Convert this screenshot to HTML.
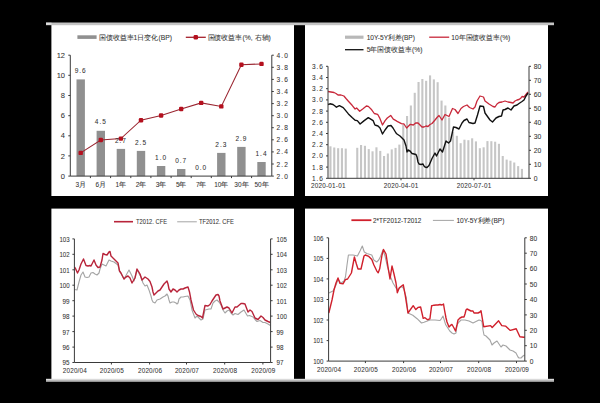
<!DOCTYPE html>
<html><head><meta charset="utf-8"><style>
html,body{margin:0;padding:0;background:#000;width:600px;height:403px;overflow:hidden;}
svg{display:block;font-family:"Liberation Sans", sans-serif;}
</style></head><body><svg width="600" height="403" viewBox="0 0 600 403" font-family='"Liberation Sans", sans-serif'><rect x="0" y="0" width="600" height="403" fill="#000"/>
<rect x="51.4" y="24" width="242.6" height="172" fill="#fff"/>
<rect x="305" y="24" width="243" height="172" fill="#fff"/>
<rect x="51.4" y="208.6" width="242.6" height="171" fill="#fff"/>
<rect x="305" y="208.6" width="243" height="171" fill="#fff"/>
<rect x="46" y="22.5" width="508" height="2.7" fill="#c4c4c4"/>
<rect x="46" y="22.7" width="5.5" height="2" fill="#dedede"/>
<rect x="46" y="378.8" width="508" height="1.2" fill="#dadada"/>
<rect x="46" y="380" width="508" height="1.8" fill="#b8b8b8"/>
<rect x="76.5" y="79.4" width="8.4" height="96.7" fill="#909090"/>
<rect x="96.6" y="130.8" width="8.4" height="45.3" fill="#909090"/>
<rect x="116.7" y="148.9" width="8.4" height="27.2" fill="#909090"/>
<rect x="136.8" y="150.9" width="8.4" height="25.2" fill="#909090"/>
<rect x="156.9" y="166.0" width="8.4" height="10.1" fill="#909090"/>
<rect x="177.0" y="169.0" width="8.4" height="7.1" fill="#909090"/>
<rect x="217.1" y="152.9" width="8.4" height="23.2" fill="#909090"/>
<rect x="237.2" y="146.9" width="8.4" height="29.2" fill="#909090"/>
<rect x="257.3" y="162.0" width="8.4" height="14.1" fill="#909090"/>
<polyline points="80.7,152.9 100.8,140.0 120.9,138.6 141.0,120.2 161.1,115.5 181.2,109.0 201.2,102.9 221.3,106.4 241.4,64.7 261.5,63.9" fill="none" stroke="#9a2530" stroke-width="1.05"/>
<rect x="78.5" y="150.7" width="4.4" height="4.4" rx="1.2" fill="#b4101e"/>
<rect x="98.6" y="137.8" width="4.4" height="4.4" rx="1.2" fill="#b4101e"/>
<rect x="118.7" y="136.4" width="4.4" height="4.4" rx="1.2" fill="#b4101e"/>
<rect x="138.8" y="118.0" width="4.4" height="4.4" rx="1.2" fill="#b4101e"/>
<rect x="158.9" y="113.3" width="4.4" height="4.4" rx="1.2" fill="#b4101e"/>
<rect x="179.0" y="106.8" width="4.4" height="4.4" rx="1.2" fill="#b4101e"/>
<rect x="199.0" y="100.7" width="4.4" height="4.4" rx="1.2" fill="#b4101e"/>
<rect x="219.1" y="104.2" width="4.4" height="4.4" rx="1.2" fill="#b4101e"/>
<rect x="239.2" y="62.5" width="4.4" height="4.4" rx="1.2" fill="#b4101e"/>
<rect x="259.3" y="61.7" width="4.4" height="4.4" rx="1.2" fill="#b4101e"/>
<text x="80.7" y="73.0" font-size="6.5" text-anchor="middle" fill="#333333" stroke="#333333" stroke-width="0.06" letter-spacing="1">9.6</text>
<text x="100.8" y="124.4" font-size="6.5" text-anchor="middle" fill="#333333" stroke="#333333" stroke-width="0.06" letter-spacing="1">4.5</text>
<text x="120.9" y="142.5" font-size="6.5" text-anchor="middle" fill="#333333" stroke="#333333" stroke-width="0.06" letter-spacing="1">2.7</text>
<text x="141.0" y="144.5" font-size="6.5" text-anchor="middle" fill="#333333" stroke="#333333" stroke-width="0.06" letter-spacing="1">2.5</text>
<text x="161.1" y="159.6" font-size="6.5" text-anchor="middle" fill="#333333" stroke="#333333" stroke-width="0.06" letter-spacing="1">1.0</text>
<text x="181.2" y="162.6" font-size="6.5" text-anchor="middle" fill="#333333" stroke="#333333" stroke-width="0.06" letter-spacing="1">0.7</text>
<text x="201.2" y="169.7" font-size="6.5" text-anchor="middle" fill="#333333" stroke="#333333" stroke-width="0.06" letter-spacing="1">0.0</text>
<text x="221.3" y="146.5" font-size="6.5" text-anchor="middle" fill="#333333" stroke="#333333" stroke-width="0.06" letter-spacing="1">2.3</text>
<text x="241.4" y="140.5" font-size="6.5" text-anchor="middle" fill="#333333" stroke="#333333" stroke-width="0.06" letter-spacing="1">2.9</text>
<text x="261.5" y="155.6" font-size="6.5" text-anchor="middle" fill="#333333" stroke="#333333" stroke-width="0.06" letter-spacing="1">1.4</text>
<line x1="70.3" y1="55.2" x2="70.3" y2="176.1" stroke="#3a3a3a" stroke-width="1"/>
<line x1="271.8" y1="55.2" x2="271.8" y2="176.1" stroke="#3a3a3a" stroke-width="1"/>
<line x1="70.3" y1="176.1" x2="271.8" y2="176.1" stroke="#3a3a3a" stroke-width="1"/>
<line x1="68.3" y1="176.1" x2="70.3" y2="176.1" stroke="#3a3a3a" stroke-width="1"/>
<text x="65" y="178.7" font-size="7.5" text-anchor="end" fill="#333333" stroke="#333333" stroke-width="0.06" >0</text>
<line x1="68.3" y1="155.9" x2="70.3" y2="155.9" stroke="#3a3a3a" stroke-width="1"/>
<text x="65" y="158.5" font-size="7.5" text-anchor="end" fill="#333333" stroke="#333333" stroke-width="0.06" >2</text>
<line x1="68.3" y1="135.8" x2="70.3" y2="135.8" stroke="#3a3a3a" stroke-width="1"/>
<text x="65" y="138.4" font-size="7.5" text-anchor="end" fill="#333333" stroke="#333333" stroke-width="0.06" >4</text>
<line x1="68.3" y1="115.7" x2="70.3" y2="115.7" stroke="#3a3a3a" stroke-width="1"/>
<text x="65" y="118.2" font-size="7.5" text-anchor="end" fill="#333333" stroke="#333333" stroke-width="0.06" >6</text>
<line x1="68.3" y1="95.5" x2="70.3" y2="95.5" stroke="#3a3a3a" stroke-width="1"/>
<text x="65" y="98.1" font-size="7.5" text-anchor="end" fill="#333333" stroke="#333333" stroke-width="0.06" >8</text>
<line x1="68.3" y1="75.3" x2="70.3" y2="75.3" stroke="#3a3a3a" stroke-width="1"/>
<text x="65" y="77.9" font-size="7.5" text-anchor="end" fill="#333333" stroke="#333333" stroke-width="0.06" >10</text>
<line x1="68.3" y1="55.2" x2="70.3" y2="55.2" stroke="#3a3a3a" stroke-width="1"/>
<text x="65" y="57.8" font-size="7.5" text-anchor="end" fill="#333333" stroke="#333333" stroke-width="0.06" >12</text>
<line x1="271.8" y1="176.1" x2="273.8" y2="176.1" stroke="#3a3a3a" stroke-width="1"/>
<text x="276.4" y="178.6" font-size="6.6" text-anchor="start" fill="#333333" textLength="11.4" lengthAdjust="spacing" stroke="#333333" stroke-width="0.06" >2.0</text>
<line x1="271.8" y1="164.0" x2="273.8" y2="164.0" stroke="#3a3a3a" stroke-width="1"/>
<text x="276.4" y="166.5" font-size="6.6" text-anchor="start" fill="#333333" textLength="11.4" lengthAdjust="spacing" stroke="#333333" stroke-width="0.06" >2.2</text>
<line x1="271.8" y1="151.9" x2="273.8" y2="151.9" stroke="#3a3a3a" stroke-width="1"/>
<text x="276.4" y="154.4" font-size="6.6" text-anchor="start" fill="#333333" textLength="11.4" lengthAdjust="spacing" stroke="#333333" stroke-width="0.06" >2.4</text>
<line x1="271.8" y1="139.8" x2="273.8" y2="139.8" stroke="#3a3a3a" stroke-width="1"/>
<text x="276.4" y="142.3" font-size="6.6" text-anchor="start" fill="#333333" textLength="11.4" lengthAdjust="spacing" stroke="#333333" stroke-width="0.06" >2.6</text>
<line x1="271.8" y1="127.7" x2="273.8" y2="127.7" stroke="#3a3a3a" stroke-width="1"/>
<text x="276.4" y="130.2" font-size="6.6" text-anchor="start" fill="#333333" textLength="11.4" lengthAdjust="spacing" stroke="#333333" stroke-width="0.06" >2.8</text>
<line x1="271.8" y1="115.7" x2="273.8" y2="115.7" stroke="#3a3a3a" stroke-width="1"/>
<text x="276.4" y="118.2" font-size="6.6" text-anchor="start" fill="#333333" textLength="11.4" lengthAdjust="spacing" stroke="#333333" stroke-width="0.06" >3.0</text>
<line x1="271.8" y1="103.6" x2="273.8" y2="103.6" stroke="#3a3a3a" stroke-width="1"/>
<text x="276.4" y="106.1" font-size="6.6" text-anchor="start" fill="#333333" textLength="11.4" lengthAdjust="spacing" stroke="#333333" stroke-width="0.06" >3.2</text>
<line x1="271.8" y1="91.5" x2="273.8" y2="91.5" stroke="#3a3a3a" stroke-width="1"/>
<text x="276.4" y="94.0" font-size="6.6" text-anchor="start" fill="#333333" textLength="11.4" lengthAdjust="spacing" stroke="#333333" stroke-width="0.06" >3.4</text>
<line x1="271.8" y1="79.4" x2="273.8" y2="79.4" stroke="#3a3a3a" stroke-width="1"/>
<text x="276.4" y="81.9" font-size="6.6" text-anchor="start" fill="#333333" textLength="11.4" lengthAdjust="spacing" stroke="#333333" stroke-width="0.06" >3.6</text>
<line x1="271.8" y1="67.3" x2="273.8" y2="67.3" stroke="#3a3a3a" stroke-width="1"/>
<text x="276.4" y="69.8" font-size="6.6" text-anchor="start" fill="#333333" textLength="11.4" lengthAdjust="spacing" stroke="#333333" stroke-width="0.06" >3.8</text>
<line x1="271.8" y1="55.2" x2="273.8" y2="55.2" stroke="#3a3a3a" stroke-width="1"/>
<text x="276.4" y="57.7" font-size="6.6" text-anchor="start" fill="#333333" textLength="11.4" lengthAdjust="spacing" stroke="#333333" stroke-width="0.06" >4.0</text>
<line x1="90.4" y1="176.1" x2="90.4" y2="178.1" stroke="#3a3a3a" stroke-width="1"/>
<line x1="110.6" y1="176.1" x2="110.6" y2="178.1" stroke="#3a3a3a" stroke-width="1"/>
<line x1="130.8" y1="176.1" x2="130.8" y2="178.1" stroke="#3a3a3a" stroke-width="1"/>
<line x1="150.9" y1="176.1" x2="150.9" y2="178.1" stroke="#3a3a3a" stroke-width="1"/>
<line x1="171.1" y1="176.1" x2="171.1" y2="178.1" stroke="#3a3a3a" stroke-width="1"/>
<line x1="191.2" y1="176.1" x2="191.2" y2="178.1" stroke="#3a3a3a" stroke-width="1"/>
<line x1="211.3" y1="176.1" x2="211.3" y2="178.1" stroke="#3a3a3a" stroke-width="1"/>
<line x1="231.5" y1="176.1" x2="231.5" y2="178.1" stroke="#3a3a3a" stroke-width="1"/>
<line x1="251.6" y1="176.1" x2="251.6" y2="178.1" stroke="#3a3a3a" stroke-width="1"/>
<text x="80.7" y="186.9" font-size="6.5" text-anchor="middle" fill="#333333" stroke="#333333" stroke-width="0.06" >3月</text>
<text x="100.8" y="186.9" font-size="6.5" text-anchor="middle" fill="#333333" stroke="#333333" stroke-width="0.06" >6月</text>
<text x="120.9" y="186.9" font-size="6.5" text-anchor="middle" fill="#333333" stroke="#333333" stroke-width="0.06" >1年</text>
<text x="141.0" y="186.9" font-size="6.5" text-anchor="middle" fill="#333333" stroke="#333333" stroke-width="0.06" >2年</text>
<text x="161.1" y="186.9" font-size="6.5" text-anchor="middle" fill="#333333" stroke="#333333" stroke-width="0.06" >3年</text>
<text x="181.2" y="186.9" font-size="6.5" text-anchor="middle" fill="#333333" stroke="#333333" stroke-width="0.06" >5年</text>
<text x="201.2" y="186.9" font-size="6.5" text-anchor="middle" fill="#333333" stroke="#333333" stroke-width="0.06" >7年</text>
<text x="221.3" y="186.9" font-size="6.5" text-anchor="middle" fill="#333333" stroke="#333333" stroke-width="0.06" >10年</text>
<text x="241.4" y="186.9" font-size="6.5" text-anchor="middle" fill="#333333" stroke="#333333" stroke-width="0.06" >30年</text>
<text x="261.5" y="186.9" font-size="6.5" text-anchor="middle" fill="#333333" stroke="#333333" stroke-width="0.06" >50年</text>
<rect x="77.4" y="35.3" width="19.2" height="3.6" fill="#909090"/>
<text x="98.6" y="39.6" font-size="6.8" text-anchor="start" fill="#333333" textLength="73.4" lengthAdjust="spacingAndGlyphs" stroke="#333333" stroke-width="0.06" >国债收益率1日变化(BP)</text>
<line x1="185.8" y1="37.3" x2="205.8" y2="37.3" stroke="#a5202c" stroke-width="1.3"/>
<rect x="193.6" y="35.1" width="4.4" height="4.4" rx="1.2" fill="#b4101e"/>
<text x="207.5" y="39.6" font-size="6.8" text-anchor="start" fill="#333333" textLength="63.3" lengthAdjust="spacingAndGlyphs" stroke="#333333" stroke-width="0.06" >国债收益率(%, 右轴)</text>
<rect x="329.4" y="146.3" width="2.1" height="32.0" fill="#c6c6c6"/>
<rect x="333.2" y="147.5" width="2.1" height="30.8" fill="#c6c6c6"/>
<rect x="337.1" y="148.2" width="2.1" height="30.1" fill="#c6c6c6"/>
<rect x="340.9" y="148.2" width="2.1" height="30.1" fill="#c6c6c6"/>
<rect x="344.7" y="148.6" width="2.1" height="29.7" fill="#c6c6c6"/>
<rect x="356.2" y="147.8" width="2.1" height="30.5" fill="#c6c6c6"/>
<rect x="360.0" y="145.0" width="2.1" height="33.3" fill="#c6c6c6"/>
<rect x="363.9" y="145.8" width="2.1" height="32.5" fill="#c6c6c6"/>
<rect x="367.7" y="149.1" width="2.1" height="29.2" fill="#c6c6c6"/>
<rect x="371.5" y="151.3" width="2.1" height="27.0" fill="#c6c6c6"/>
<rect x="375.4" y="147.3" width="2.1" height="31.0" fill="#c6c6c6"/>
<rect x="379.2" y="150.9" width="2.1" height="27.4" fill="#c6c6c6"/>
<rect x="383.0" y="156.0" width="2.1" height="22.3" fill="#c6c6c6"/>
<rect x="386.8" y="153.5" width="2.1" height="24.8" fill="#c6c6c6"/>
<rect x="390.7" y="149.4" width="2.1" height="28.9" fill="#c6c6c6"/>
<rect x="394.5" y="147.9" width="2.1" height="30.4" fill="#c6c6c6"/>
<rect x="398.3" y="144.6" width="2.1" height="33.7" fill="#c6c6c6"/>
<rect x="402.2" y="125.0" width="2.1" height="53.3" fill="#c6c6c6"/>
<rect x="406.0" y="116.0" width="2.1" height="62.3" fill="#c6c6c6"/>
<rect x="409.8" y="105.5" width="2.1" height="72.8" fill="#c6c6c6"/>
<rect x="413.7" y="92.8" width="2.1" height="85.5" fill="#c6c6c6"/>
<rect x="417.5" y="82.0" width="2.1" height="96.3" fill="#c6c6c6"/>
<rect x="421.3" y="79.0" width="2.1" height="99.3" fill="#c6c6c6"/>
<rect x="425.1" y="80.8" width="2.1" height="97.5" fill="#c6c6c6"/>
<rect x="429.0" y="75.4" width="2.1" height="102.9" fill="#c6c6c6"/>
<rect x="432.8" y="79.4" width="2.1" height="98.9" fill="#c6c6c6"/>
<rect x="436.6" y="82.2" width="2.1" height="96.1" fill="#c6c6c6"/>
<rect x="440.5" y="100.6" width="2.1" height="77.7" fill="#c6c6c6"/>
<rect x="444.3" y="105.5" width="2.1" height="72.8" fill="#c6c6c6"/>
<rect x="448.1" y="117.6" width="2.1" height="60.7" fill="#c6c6c6"/>
<rect x="452.0" y="131.9" width="2.1" height="46.4" fill="#c6c6c6"/>
<rect x="455.8" y="135.8" width="2.1" height="42.5" fill="#c6c6c6"/>
<rect x="459.6" y="143.2" width="2.1" height="35.1" fill="#c6c6c6"/>
<rect x="463.4" y="139.7" width="2.1" height="38.6" fill="#c6c6c6"/>
<rect x="467.3" y="140.2" width="2.1" height="38.1" fill="#c6c6c6"/>
<rect x="471.1" y="138.3" width="2.1" height="40.0" fill="#c6c6c6"/>
<rect x="474.9" y="141.4" width="2.1" height="36.9" fill="#c6c6c6"/>
<rect x="478.8" y="148.2" width="2.1" height="30.1" fill="#c6c6c6"/>
<rect x="482.6" y="147.3" width="2.1" height="31.0" fill="#c6c6c6"/>
<rect x="486.4" y="141.1" width="2.1" height="37.2" fill="#c6c6c6"/>
<rect x="490.3" y="141.2" width="2.1" height="37.1" fill="#c6c6c6"/>
<rect x="494.1" y="141.7" width="2.1" height="36.6" fill="#c6c6c6"/>
<rect x="497.9" y="143.8" width="2.1" height="34.5" fill="#c6c6c6"/>
<rect x="501.7" y="156.0" width="2.1" height="22.3" fill="#c6c6c6"/>
<rect x="505.6" y="159.6" width="2.1" height="18.7" fill="#c6c6c6"/>
<rect x="509.4" y="160.7" width="2.1" height="17.6" fill="#c6c6c6"/>
<rect x="513.2" y="162.5" width="2.1" height="15.8" fill="#c6c6c6"/>
<rect x="517.1" y="166.1" width="2.1" height="12.2" fill="#c6c6c6"/>
<rect x="520.9" y="168.9" width="2.1" height="9.4" fill="#c6c6c6"/>
<polyline points="328.0,91.5 331.0,92.0 334.0,92.5 336.0,93.5 338.0,95.0 341.0,95.0 343.9,96.0 346.0,98.5 348.4,101.2 352.1,105.3 355.1,109.0 356.6,108.0 359.7,111.3 362.7,109.0 366.4,106.0 368.3,106.4 371.7,109.8 374.3,113.5 377.6,114.3 379.9,118.4 382.5,125.0 385.1,120.6 387.3,118.0 390.7,115.4 393.3,119.1 396.0,120.6 397.6,121.7 401.4,123.6 404.0,124.0 406.6,128.0 410.3,124.3 413.3,125.0 416.0,122.8 418.0,123.0 420.0,125.0 422.0,127.0 424.0,127.0 426.0,126.0 428.0,126.5 430.0,124.5 432.0,123.5 435.0,120.0 437.0,117.5 439.0,115.5 442.0,120.0 445.0,114.5 447.0,115.5 449.0,116.5 452.5,108.5 455.0,109.5 458.0,113.5 461.0,108.5 463.5,106.5 467.0,105.0 469.5,107.5 473.0,109.0 475.0,107.0 477.0,101.0 480.0,96.0 483.5,97.0 485.0,101.0 489.0,104.0 493.0,106.5 495.0,107.0 497.0,104.0 499.0,102.5 502.0,102.0 505.0,101.0 508.0,102.0 511.0,102.5 513.0,103.0 515.0,101.0 517.0,100.0 519.0,99.5 521.0,98.0 522.0,96.5 524.0,97.0 526.0,94.5 528.0,92.0" fill="none" stroke="#c8283a" stroke-width="1.3" stroke-linejoin="round"/>
<polyline points="328.0,104.5 330.0,103.8 333.0,104.5 335.0,106.0 336.4,107.2 339.4,105.7 343.2,107.6 344.7,109.4 348.4,113.9 352.1,117.6 355.1,120.3 357.3,120.6 360.1,124.0 364.2,120.6 368.3,117.6 373.1,120.6 374.6,124.3 375.0,125.0 378.0,126.0 380.0,128.0 382.5,134.0 385.0,130.0 388.0,126.0 391.0,125.5 393.0,128.0 396.0,133.0 397.0,134.0 400.0,136.0 402.0,138.0 404.0,140.0 406.0,146.0 407.0,152.0 408.0,150.0 410.0,151.0 412.0,153.5 414.0,154.0 416.0,154.5 417.0,157.0 418.0,162.0 419.0,164.0 421.0,164.5 423.0,164.0 424.0,166.0 425.0,167.0 427.0,167.5 429.0,165.5 432.0,158.5 435.0,153.0 436.5,156.0 440.0,149.0 442.5,152.0 446.0,141.0 448.5,143.0 450.5,141.0 453.5,127.0 456.0,127.5 459.0,129.0 462.0,123.0 464.0,120.5 467.0,119.0 469.0,122.5 473.0,123.5 475.0,123.0 477.5,115.0 480.0,106.0 483.5,106.5 485.0,113.0 490.0,120.0 492.5,122.0 496.0,118.0 499.0,116.5 501.5,116.0 503.0,110.0 505.0,109.5 508.0,108.0 511.0,110.0 514.0,106.0 517.0,105.0 519.0,103.5 522.0,101.5 524.0,100.0 526.0,96.0 528.0,93.0" fill="none" stroke="#111" stroke-width="1.4" stroke-linejoin="round"/>
<line x1="328.0" y1="66.3" x2="328.0" y2="178.3" stroke="#3a3a3a" stroke-width="1"/>
<line x1="529.0" y1="66.3" x2="529.0" y2="178.3" stroke="#3a3a3a" stroke-width="1"/>
<line x1="328.0" y1="178.3" x2="529.0" y2="178.3" stroke="#3a3a3a" stroke-width="1"/>
<line x1="326.0" y1="66.3" x2="328.0" y2="66.3" stroke="#3a3a3a" stroke-width="1"/>
<text x="317.5" y="68.7" font-size="6.5" text-anchor="middle" fill="#333333" textLength="10.8" lengthAdjust="spacing" stroke="#333333" stroke-width="0.06" >3.6</text>
<line x1="326.0" y1="77.5" x2="328.0" y2="77.5" stroke="#3a3a3a" stroke-width="1"/>
<text x="317.5" y="79.9" font-size="6.5" text-anchor="middle" fill="#333333" textLength="10.8" lengthAdjust="spacing" stroke="#333333" stroke-width="0.06" >3.4</text>
<line x1="326.0" y1="88.7" x2="328.0" y2="88.7" stroke="#3a3a3a" stroke-width="1"/>
<text x="317.5" y="91.1" font-size="6.5" text-anchor="middle" fill="#333333" textLength="10.8" lengthAdjust="spacing" stroke="#333333" stroke-width="0.06" >3.2</text>
<line x1="326.0" y1="99.9" x2="328.0" y2="99.9" stroke="#3a3a3a" stroke-width="1"/>
<text x="317.5" y="102.3" font-size="6.5" text-anchor="middle" fill="#333333" textLength="10.8" lengthAdjust="spacing" stroke="#333333" stroke-width="0.06" >3.0</text>
<line x1="326.0" y1="111.1" x2="328.0" y2="111.1" stroke="#3a3a3a" stroke-width="1"/>
<text x="317.5" y="113.5" font-size="6.5" text-anchor="middle" fill="#333333" textLength="10.8" lengthAdjust="spacing" stroke="#333333" stroke-width="0.06" >2.8</text>
<line x1="326.0" y1="122.3" x2="328.0" y2="122.3" stroke="#3a3a3a" stroke-width="1"/>
<text x="317.5" y="124.7" font-size="6.5" text-anchor="middle" fill="#333333" textLength="10.8" lengthAdjust="spacing" stroke="#333333" stroke-width="0.06" >2.6</text>
<line x1="326.0" y1="133.5" x2="328.0" y2="133.5" stroke="#3a3a3a" stroke-width="1"/>
<text x="317.5" y="135.9" font-size="6.5" text-anchor="middle" fill="#333333" textLength="10.8" lengthAdjust="spacing" stroke="#333333" stroke-width="0.06" >2.4</text>
<line x1="326.0" y1="144.7" x2="328.0" y2="144.7" stroke="#3a3a3a" stroke-width="1"/>
<text x="317.5" y="147.1" font-size="6.5" text-anchor="middle" fill="#333333" textLength="10.8" lengthAdjust="spacing" stroke="#333333" stroke-width="0.06" >2.2</text>
<line x1="326.0" y1="155.9" x2="328.0" y2="155.9" stroke="#3a3a3a" stroke-width="1"/>
<text x="317.5" y="158.3" font-size="6.5" text-anchor="middle" fill="#333333" textLength="10.8" lengthAdjust="spacing" stroke="#333333" stroke-width="0.06" >2.0</text>
<line x1="326.0" y1="167.1" x2="328.0" y2="167.1" stroke="#3a3a3a" stroke-width="1"/>
<text x="317.5" y="169.5" font-size="6.5" text-anchor="middle" fill="#333333" textLength="10.8" lengthAdjust="spacing" stroke="#333333" stroke-width="0.06" >1.8</text>
<line x1="326.0" y1="178.3" x2="328.0" y2="178.3" stroke="#3a3a3a" stroke-width="1"/>
<text x="317.5" y="180.7" font-size="6.5" text-anchor="middle" fill="#333333" textLength="10.8" lengthAdjust="spacing" stroke="#333333" stroke-width="0.06" >1.6</text>
<line x1="529.0" y1="66.3" x2="531.0" y2="66.3" stroke="#3a3a3a" stroke-width="1"/>
<text x="533.8" y="68.7" font-size="6.8" text-anchor="start" fill="#333333" stroke="#333333" stroke-width="0.06" >80</text>
<line x1="529.0" y1="80.3" x2="531.0" y2="80.3" stroke="#3a3a3a" stroke-width="1"/>
<text x="533.8" y="82.7" font-size="6.8" text-anchor="start" fill="#333333" stroke="#333333" stroke-width="0.06" >70</text>
<line x1="529.0" y1="94.3" x2="531.0" y2="94.3" stroke="#3a3a3a" stroke-width="1"/>
<text x="533.8" y="96.7" font-size="6.8" text-anchor="start" fill="#333333" stroke="#333333" stroke-width="0.06" >60</text>
<line x1="529.0" y1="108.3" x2="531.0" y2="108.3" stroke="#3a3a3a" stroke-width="1"/>
<text x="533.8" y="110.7" font-size="6.8" text-anchor="start" fill="#333333" stroke="#333333" stroke-width="0.06" >50</text>
<line x1="529.0" y1="122.3" x2="531.0" y2="122.3" stroke="#3a3a3a" stroke-width="1"/>
<text x="533.8" y="124.7" font-size="6.8" text-anchor="start" fill="#333333" stroke="#333333" stroke-width="0.06" >40</text>
<line x1="529.0" y1="136.3" x2="531.0" y2="136.3" stroke="#3a3a3a" stroke-width="1"/>
<text x="533.8" y="138.7" font-size="6.8" text-anchor="start" fill="#333333" stroke="#333333" stroke-width="0.06" >30</text>
<line x1="529.0" y1="150.3" x2="531.0" y2="150.3" stroke="#3a3a3a" stroke-width="1"/>
<text x="533.8" y="152.7" font-size="6.8" text-anchor="start" fill="#333333" stroke="#333333" stroke-width="0.06" >20</text>
<line x1="529.0" y1="164.3" x2="531.0" y2="164.3" stroke="#3a3a3a" stroke-width="1"/>
<text x="533.8" y="166.7" font-size="6.8" text-anchor="start" fill="#333333" stroke="#333333" stroke-width="0.06" >10</text>
<line x1="529.0" y1="178.3" x2="531.0" y2="178.3" stroke="#3a3a3a" stroke-width="1"/>
<text x="533.8" y="180.7" font-size="6.8" text-anchor="start" fill="#333333" stroke="#333333" stroke-width="0.06" >0</text>
<line x1="401.0" y1="178.3" x2="401.0" y2="180.3" stroke="#3a3a3a" stroke-width="1"/>
<line x1="474.0" y1="178.3" x2="474.0" y2="180.3" stroke="#3a3a3a" stroke-width="1"/>
<text x="328.2" y="188.3" font-size="6.4" text-anchor="middle" fill="#333333" textLength="34.5" lengthAdjust="spacing" stroke="#333333" stroke-width="0.05" >2020-01-01</text>
<text x="401" y="188.3" font-size="6.4" text-anchor="middle" fill="#333333" textLength="34.5" lengthAdjust="spacing" stroke="#333333" stroke-width="0.05" >2020-04-01</text>
<text x="474" y="188.3" font-size="6.4" text-anchor="middle" fill="#333333" textLength="34.5" lengthAdjust="spacing" stroke="#333333" stroke-width="0.05" >2020-07-01</text>
<rect x="345" y="35.6" width="18.5" height="3.2" fill="#b8b8b8"/>
<text x="366.7" y="39.6" font-size="6.8" text-anchor="start" fill="#333333" textLength="48.3" lengthAdjust="spacingAndGlyphs" stroke="#333333" stroke-width="0.06" >10Y-5Y利差(BP)</text>
<line x1="345" y1="49.7" x2="363.5" y2="49.7" stroke="#111" stroke-width="1.3"/>
<text x="366.7" y="52.1" font-size="6.8" text-anchor="start" fill="#333333" textLength="55.8" lengthAdjust="spacingAndGlyphs" stroke="#333333" stroke-width="0.06" >5年国债收益率(%)</text>
<line x1="429.2" y1="37.2" x2="449.2" y2="37.2" stroke="#c8283a" stroke-width="1.3"/>
<text x="451.3" y="39.6" font-size="6.8" text-anchor="start" fill="#333333" textLength="59" lengthAdjust="spacingAndGlyphs" stroke="#333333" stroke-width="0.06" >10年国债收益率(%)</text>
<polyline points="74.6,289.5 77.0,290.0 79.0,282.0 81.0,275.0 83.0,272.0 85.0,277.0 87.0,277.5 89.0,277.0 91.0,273.0 93.0,272.5 95.0,274.0 97.0,275.0 99.0,273.0 100.0,269.0 102.0,264.0 104.0,265.0 106.0,266.0 108.0,262.0 109.0,260.0 111.0,261.0 114.0,262.0 118.0,265.0 119.5,271.0 124.0,279.0 129.0,270.0 132.0,276.0 134.0,281.0 137.0,270.0 141.0,277.0 143.0,283.0 145.0,286.0 147.0,285.0 149.0,290.0 151.0,296.0 152.0,300.0 153.0,302.0 155.0,303.0 157.0,300.0 160.0,299.0 163.0,297.0 165.0,296.0 167.0,294.0 168.0,296.0 169.0,300.0 170.0,303.0 172.0,302.0 174.0,302.0 176.0,303.0 177.0,304.0 178.0,303.0 179.0,299.0 181.0,297.0 183.0,297.0 185.0,296.5 188.0,296.0 190.0,300.0 192.0,310.0 195.0,318.0 197.0,316.0 199.0,318.0 201.0,320.0 203.0,319.0 205.0,310.0 207.0,309.5 209.0,309.0 211.0,309.0 213.0,303.0 215.0,301.0 217.0,300.0 219.0,302.0 221.0,305.0 223.0,310.0 225.0,313.0 227.0,311.0 229.0,310.0 231.0,313.0 233.0,315.0 235.0,313.5 238.0,314.5 241.0,312.0 244.0,310.0 246.0,313.5 247.5,316.0 249.5,315.5 253.0,317.0 255.0,319.5 257.0,321.5 260.0,320.5 263.0,322.5 265.0,322.5 268.0,324.0 270.4,325.5" fill="none" stroke="#a4a4a4" stroke-width="1.1" stroke-linejoin="round"/>
<polyline points="74.6,267.0 75.5,268.5 77.5,273.0 79.0,270.0 81.0,264.0 83.5,259.0 86.0,265.5 88.0,266.0 90.0,265.5 91.0,266.0 93.0,262.0 94.0,260.0 96.0,265.0 98.0,267.5 100.0,267.0 102.0,260.0 103.0,253.5 105.0,254.5 107.0,255.0 109.0,252.0 110.0,251.5 111.0,256.0 114.0,259.0 118.0,263.0 119.5,271.0 121.0,273.0 124.0,279.0 126.0,277.0 128.0,276.0 130.0,278.0 132.0,283.0 135.0,278.0 137.0,269.0 140.0,274.0 142.0,280.0 145.0,277.0 148.0,279.0 150.0,281.5 152.0,287.0 153.0,292.0 154.0,295.0 156.0,293.0 158.0,291.0 160.0,290.0 162.0,287.0 164.0,284.0 166.0,282.0 167.0,281.0 168.0,284.0 169.0,289.0 171.0,292.0 173.0,289.0 175.0,290.0 177.0,292.0 179.0,290.0 181.0,289.0 183.0,289.0 185.0,288.0 188.0,287.0 189.5,292.0 191.0,300.0 193.5,310.0 196.0,314.0 198.0,315.5 201.0,316.5 202.5,318.0 203.5,313.0 205.0,305.5 208.0,306.0 210.0,304.5 212.0,301.0 214.0,298.0 216.0,295.0 218.0,294.5 219.0,296.0 220.0,301.0 223.0,309.0 227.0,307.0 229.0,308.0 232.0,313.0 235.0,307.0 237.0,307.0 241.0,303.5 243.0,303.5 245.0,304.0 246.5,308.0 248.0,312.0 250.0,310.0 252.0,311.5 255.0,318.0 258.0,319.5 261.0,316.0 263.0,317.5 265.0,320.0 268.0,321.5 270.4,322.5" fill="none" stroke="#b8243a" stroke-width="1.4" stroke-linejoin="round"/>
<line x1="74.4" y1="238.9" x2="74.4" y2="362.5" stroke="#3a3a3a" stroke-width="1"/>
<line x1="270.6" y1="238.9" x2="270.6" y2="362.5" stroke="#3a3a3a" stroke-width="1"/>
<line x1="74.4" y1="362.5" x2="270.6" y2="362.5" stroke="#3a3a3a" stroke-width="1"/>
<line x1="72.4" y1="238.9" x2="74.4" y2="238.9" stroke="#3a3a3a" stroke-width="1"/>
<text x="69.6" y="241.8" font-size="6.6" text-anchor="end" fill="#333333" textLength="10.2" lengthAdjust="spacingAndGlyphs" stroke="#333333" stroke-width="0.06" >103</text>
<line x1="270.6" y1="238.9" x2="272.6" y2="238.9" stroke="#3a3a3a" stroke-width="1"/>
<text x="276.6" y="241.8" font-size="6.6" text-anchor="start" fill="#333333" textLength="10.2" lengthAdjust="spacingAndGlyphs" stroke="#333333" stroke-width="0.06" >105</text>
<line x1="72.4" y1="254.3" x2="74.4" y2="254.3" stroke="#3a3a3a" stroke-width="1"/>
<text x="69.6" y="257.2" font-size="6.6" text-anchor="end" fill="#333333" textLength="10.2" lengthAdjust="spacingAndGlyphs" stroke="#333333" stroke-width="0.06" >102</text>
<line x1="270.6" y1="254.3" x2="272.6" y2="254.3" stroke="#3a3a3a" stroke-width="1"/>
<text x="276.6" y="257.2" font-size="6.6" text-anchor="start" fill="#333333" textLength="10.2" lengthAdjust="spacingAndGlyphs" stroke="#333333" stroke-width="0.06" >104</text>
<line x1="72.4" y1="269.8" x2="74.4" y2="269.8" stroke="#3a3a3a" stroke-width="1"/>
<text x="69.6" y="272.7" font-size="6.6" text-anchor="end" fill="#333333" textLength="10.2" lengthAdjust="spacingAndGlyphs" stroke="#333333" stroke-width="0.06" >101</text>
<line x1="270.6" y1="269.8" x2="272.6" y2="269.8" stroke="#3a3a3a" stroke-width="1"/>
<text x="276.6" y="272.7" font-size="6.6" text-anchor="start" fill="#333333" textLength="10.2" lengthAdjust="spacingAndGlyphs" stroke="#333333" stroke-width="0.06" >103</text>
<line x1="72.4" y1="285.2" x2="74.4" y2="285.2" stroke="#3a3a3a" stroke-width="1"/>
<text x="69.6" y="288.1" font-size="6.6" text-anchor="end" fill="#333333" textLength="10.2" lengthAdjust="spacingAndGlyphs" stroke="#333333" stroke-width="0.06" >100</text>
<line x1="270.6" y1="285.2" x2="272.6" y2="285.2" stroke="#3a3a3a" stroke-width="1"/>
<text x="276.6" y="288.1" font-size="6.6" text-anchor="start" fill="#333333" textLength="10.2" lengthAdjust="spacingAndGlyphs" stroke="#333333" stroke-width="0.06" >102</text>
<line x1="72.4" y1="300.7" x2="74.4" y2="300.7" stroke="#3a3a3a" stroke-width="1"/>
<text x="69.6" y="303.6" font-size="6.6" text-anchor="end" fill="#333333" textLength="7.0" lengthAdjust="spacingAndGlyphs" stroke="#333333" stroke-width="0.06" >99</text>
<line x1="270.6" y1="300.7" x2="272.6" y2="300.7" stroke="#3a3a3a" stroke-width="1"/>
<text x="276.6" y="303.6" font-size="6.6" text-anchor="start" fill="#333333" textLength="10.2" lengthAdjust="spacingAndGlyphs" stroke="#333333" stroke-width="0.06" >101</text>
<line x1="72.4" y1="316.1" x2="74.4" y2="316.1" stroke="#3a3a3a" stroke-width="1"/>
<text x="69.6" y="319.0" font-size="6.6" text-anchor="end" fill="#333333" textLength="7.0" lengthAdjust="spacingAndGlyphs" stroke="#333333" stroke-width="0.06" >98</text>
<line x1="270.6" y1="316.1" x2="272.6" y2="316.1" stroke="#3a3a3a" stroke-width="1"/>
<text x="276.6" y="319.0" font-size="6.6" text-anchor="start" fill="#333333" textLength="10.2" lengthAdjust="spacingAndGlyphs" stroke="#333333" stroke-width="0.06" >100</text>
<line x1="72.4" y1="331.6" x2="74.4" y2="331.6" stroke="#3a3a3a" stroke-width="1"/>
<text x="69.6" y="334.5" font-size="6.6" text-anchor="end" fill="#333333" textLength="7.0" lengthAdjust="spacingAndGlyphs" stroke="#333333" stroke-width="0.06" >97</text>
<line x1="270.6" y1="331.6" x2="272.6" y2="331.6" stroke="#3a3a3a" stroke-width="1"/>
<text x="276.6" y="334.5" font-size="6.6" text-anchor="start" fill="#333333" textLength="7.0" lengthAdjust="spacingAndGlyphs" stroke="#333333" stroke-width="0.06" >99</text>
<line x1="72.4" y1="347.1" x2="74.4" y2="347.1" stroke="#3a3a3a" stroke-width="1"/>
<text x="69.6" y="349.9" font-size="6.6" text-anchor="end" fill="#333333" textLength="7.0" lengthAdjust="spacingAndGlyphs" stroke="#333333" stroke-width="0.06" >96</text>
<line x1="270.6" y1="347.1" x2="272.6" y2="347.1" stroke="#3a3a3a" stroke-width="1"/>
<text x="276.6" y="349.9" font-size="6.6" text-anchor="start" fill="#333333" textLength="7.0" lengthAdjust="spacingAndGlyphs" stroke="#333333" stroke-width="0.06" >98</text>
<line x1="72.4" y1="362.5" x2="74.4" y2="362.5" stroke="#3a3a3a" stroke-width="1"/>
<text x="69.6" y="365.4" font-size="6.6" text-anchor="end" fill="#333333" textLength="7.0" lengthAdjust="spacingAndGlyphs" stroke="#333333" stroke-width="0.06" >95</text>
<line x1="270.6" y1="362.5" x2="272.6" y2="362.5" stroke="#3a3a3a" stroke-width="1"/>
<text x="276.6" y="365.4" font-size="6.6" text-anchor="start" fill="#333333" textLength="7.0" lengthAdjust="spacingAndGlyphs" stroke="#333333" stroke-width="0.06" >97</text>
<text x="74.80000000000001" y="373.3" font-size="6.4" text-anchor="middle" fill="#333333" textLength="24" lengthAdjust="spacing" stroke="#333333" stroke-width="0.05" >2020/04</text>
<line x1="111.4" y1="362.5" x2="111.4" y2="364.5" stroke="#3a3a3a" stroke-width="1"/>
<text x="111.80000000000001" y="373.3" font-size="6.4" text-anchor="middle" fill="#333333" textLength="24" lengthAdjust="spacing" stroke="#333333" stroke-width="0.05" >2020/05</text>
<line x1="149.6" y1="362.5" x2="149.6" y2="364.5" stroke="#3a3a3a" stroke-width="1"/>
<text x="150.0" y="373.3" font-size="6.4" text-anchor="middle" fill="#333333" textLength="24" lengthAdjust="spacing" stroke="#333333" stroke-width="0.05" >2020/06</text>
<line x1="186.5" y1="362.5" x2="186.5" y2="364.5" stroke="#3a3a3a" stroke-width="1"/>
<text x="186.9" y="373.3" font-size="6.4" text-anchor="middle" fill="#333333" textLength="24" lengthAdjust="spacing" stroke="#333333" stroke-width="0.05" >2020/07</text>
<line x1="224.7" y1="362.5" x2="224.7" y2="364.5" stroke="#3a3a3a" stroke-width="1"/>
<text x="225.1" y="373.3" font-size="6.4" text-anchor="middle" fill="#333333" textLength="24" lengthAdjust="spacing" stroke="#333333" stroke-width="0.05" >2020/08</text>
<line x1="262.9" y1="362.5" x2="262.9" y2="364.5" stroke="#3a3a3a" stroke-width="1"/>
<text x="263.29999999999995" y="373.3" font-size="6.4" text-anchor="middle" fill="#333333" textLength="24" lengthAdjust="spacing" stroke="#333333" stroke-width="0.05" >2020/09</text>
<line x1="114" y1="221.7" x2="133" y2="221.7" stroke="#b8243a" stroke-width="1.6"/>
<text x="136" y="224.1" font-size="6.8" text-anchor="start" fill="#333333" textLength="31" lengthAdjust="spacingAndGlyphs" stroke="#333333" stroke-width="0.06" >T2012. CFE</text>
<line x1="177.2" y1="221.8" x2="196.8" y2="221.8" stroke="#a4a4a4" stroke-width="1"/>
<text x="198.9" y="224.1" font-size="6.8" text-anchor="start" fill="#333333" textLength="35" lengthAdjust="spacingAndGlyphs" stroke="#333333" stroke-width="0.06" >TF2012. CFE</text>
<polyline points="328.8,293.0 333.0,291.0 336.0,285.0 338.0,279.5 341.0,283.0 344.0,281.0 345.5,276.8 347.0,265.0 348.4,255.0 353.0,255.0 357.4,256.0 360.0,251.0 362.3,246.0 364.3,252.0 366.8,253.4 371.8,255.0 373.8,260.0 376.7,262.0 378.7,260.0 380.5,256.5 383.0,250.0 385.0,256.0 387.0,265.0 389.0,272.0 391.0,278.0 393.0,283.0 396.0,288.0 397.8,289.7 401.8,286.3 403.8,288.8 406.3,297.7 408.0,313.0 412.8,315.2 417.1,318.7 421.5,323.0 424.0,322.2 430.0,320.0 434.0,320.0 435.0,320.0 440.0,320.5 441.5,318.6 443.0,316.0 445.7,324.8 449.8,331.0 452.0,333.0 454.0,334.0 456.0,333.0 457.0,325.0 459.0,322.0 461.0,320.0 463.0,320.0 465.0,320.0 467.0,320.5 469.0,321.0 471.0,322.0 473.0,323.0 475.0,322.0 477.0,321.0 479.0,320.0 481.0,320.5 482.0,322.0 483.0,330.0 484.0,335.0 486.0,336.0 488.0,338.0 490.0,340.0 492.0,345.0 494.0,343.0 497.0,341.0 499.0,344.0 501.0,347.0 503.0,345.0 506.0,346.0 508.0,348.0 510.0,350.0 513.0,351.0 516.0,353.0 518.0,357.0 519.0,358.0 521.0,358.0 523.0,356.0 524.5,355.0" fill="none" stroke="#a4a4a4" stroke-width="1.1" stroke-linejoin="round"/>
<polyline points="328.8,313.0 332.0,300.0 334.0,290.0 336.0,283.0 338.0,278.0 340.0,283.4 343.0,283.8 345.4,279.7 347.6,279.0 351.4,273.0 354.4,257.0 356.4,264.0 358.0,269.0 361.0,269.0 364.0,256.0 365.3,255.0 368.8,256.4 371.8,259.4 373.8,264.8 376.7,270.8 378.2,272.8 379.7,268.8 382.0,255.0 383.5,249.5 386.0,254.0 388.0,267.0 390.0,279.0 392.0,266.0 394.0,274.0 396.0,283.0 397.3,292.7 399.3,287.8 403.3,284.8 405.3,295.7 408.0,313.0 413.2,305.7 415.8,309.6 418.0,307.4 420.6,307.0 423.2,318.3 425.0,317.7 427.5,319.7 429.9,318.9 431.6,305.8 432.3,305.7 434.0,305.2 436.0,305.0 438.0,305.0 440.0,304.5 442.0,305.0 443.5,304.0 444.5,310.0 446.0,318.0 447.0,322.0 449.0,327.0 451.0,325.0 452.0,324.5 454.0,328.0 455.5,331.0 457.0,325.0 458.0,320.0 460.0,318.0 462.0,317.0 464.0,317.0 465.0,314.0 466.0,310.0 467.0,309.0 469.0,310.0 471.0,311.0 473.0,311.0 474.0,313.0 476.0,313.0 478.0,313.0 480.0,312.0 481.0,310.7 483.7,326.7 490.6,325.6 492.2,327.5 498.6,320.8 501.8,325.6 505.5,326.1 510.3,330.4 516.2,328.8 519.9,336.8 523.7,337.3 524.8,337.0" fill="none" stroke="#d0202c" stroke-width="1.4" stroke-linejoin="round"/>
<line x1="328.6" y1="237.8" x2="328.6" y2="361.1" stroke="#3a3a3a" stroke-width="1"/>
<line x1="524.8" y1="237.8" x2="524.8" y2="361.1" stroke="#3a3a3a" stroke-width="1"/>
<line x1="328.6" y1="361.1" x2="524.8" y2="361.1" stroke="#3a3a3a" stroke-width="1"/>
<line x1="326.6" y1="237.8" x2="328.6" y2="237.8" stroke="#3a3a3a" stroke-width="1"/>
<text x="323.4" y="240.5" font-size="6.6" text-anchor="end" fill="#333333" textLength="10.2" lengthAdjust="spacingAndGlyphs" stroke="#333333" stroke-width="0.06" >106</text>
<line x1="326.6" y1="258.4" x2="328.6" y2="258.4" stroke="#3a3a3a" stroke-width="1"/>
<text x="323.4" y="261.1" font-size="6.6" text-anchor="end" fill="#333333" textLength="10.2" lengthAdjust="spacingAndGlyphs" stroke="#333333" stroke-width="0.06" >105</text>
<line x1="326.6" y1="278.9" x2="328.6" y2="278.9" stroke="#3a3a3a" stroke-width="1"/>
<text x="323.4" y="281.6" font-size="6.6" text-anchor="end" fill="#333333" textLength="10.2" lengthAdjust="spacingAndGlyphs" stroke="#333333" stroke-width="0.06" >104</text>
<line x1="326.6" y1="299.5" x2="328.6" y2="299.5" stroke="#3a3a3a" stroke-width="1"/>
<text x="323.4" y="302.2" font-size="6.6" text-anchor="end" fill="#333333" textLength="10.2" lengthAdjust="spacingAndGlyphs" stroke="#333333" stroke-width="0.06" >103</text>
<line x1="326.6" y1="320.0" x2="328.6" y2="320.0" stroke="#3a3a3a" stroke-width="1"/>
<text x="323.4" y="322.7" font-size="6.6" text-anchor="end" fill="#333333" textLength="10.2" lengthAdjust="spacingAndGlyphs" stroke="#333333" stroke-width="0.06" >102</text>
<line x1="326.6" y1="340.6" x2="328.6" y2="340.6" stroke="#3a3a3a" stroke-width="1"/>
<text x="323.4" y="343.2" font-size="6.6" text-anchor="end" fill="#333333" textLength="10.2" lengthAdjust="spacingAndGlyphs" stroke="#333333" stroke-width="0.06" >101</text>
<line x1="326.6" y1="361.1" x2="328.6" y2="361.1" stroke="#3a3a3a" stroke-width="1"/>
<text x="323.4" y="363.8" font-size="6.6" text-anchor="end" fill="#333333" textLength="10.2" lengthAdjust="spacingAndGlyphs" stroke="#333333" stroke-width="0.06" >100</text>
<line x1="524.8" y1="237.8" x2="526.8" y2="237.8" stroke="#3a3a3a" stroke-width="1"/>
<text x="529.8" y="240.5" font-size="6.6" text-anchor="start" fill="#333333" stroke="#333333" stroke-width="0.06" >80</text>
<line x1="524.8" y1="253.2" x2="526.8" y2="253.2" stroke="#3a3a3a" stroke-width="1"/>
<text x="529.8" y="255.9" font-size="6.6" text-anchor="start" fill="#333333" stroke="#333333" stroke-width="0.06" >70</text>
<line x1="524.8" y1="268.6" x2="526.8" y2="268.6" stroke="#3a3a3a" stroke-width="1"/>
<text x="529.8" y="271.3" font-size="6.6" text-anchor="start" fill="#333333" stroke="#333333" stroke-width="0.06" >60</text>
<line x1="524.8" y1="284.0" x2="526.8" y2="284.0" stroke="#3a3a3a" stroke-width="1"/>
<text x="529.8" y="286.7" font-size="6.6" text-anchor="start" fill="#333333" stroke="#333333" stroke-width="0.06" >50</text>
<line x1="524.8" y1="299.5" x2="526.8" y2="299.5" stroke="#3a3a3a" stroke-width="1"/>
<text x="529.8" y="302.2" font-size="6.6" text-anchor="start" fill="#333333" stroke="#333333" stroke-width="0.06" >40</text>
<line x1="524.8" y1="314.9" x2="526.8" y2="314.9" stroke="#3a3a3a" stroke-width="1"/>
<text x="529.8" y="317.6" font-size="6.6" text-anchor="start" fill="#333333" stroke="#333333" stroke-width="0.06" >30</text>
<line x1="524.8" y1="330.3" x2="526.8" y2="330.3" stroke="#3a3a3a" stroke-width="1"/>
<text x="529.8" y="333.0" font-size="6.6" text-anchor="start" fill="#333333" stroke="#333333" stroke-width="0.06" >20</text>
<line x1="524.8" y1="345.7" x2="526.8" y2="345.7" stroke="#3a3a3a" stroke-width="1"/>
<text x="529.8" y="348.4" font-size="6.6" text-anchor="start" fill="#333333" stroke="#333333" stroke-width="0.06" >10</text>
<line x1="524.8" y1="361.1" x2="526.8" y2="361.1" stroke="#3a3a3a" stroke-width="1"/>
<text x="529.8" y="363.8" font-size="6.6" text-anchor="start" fill="#333333" stroke="#333333" stroke-width="0.06" >0</text>
<text x="329.0" y="371.8" font-size="6.4" text-anchor="middle" fill="#333333" textLength="24" lengthAdjust="spacing" stroke="#333333" stroke-width="0.05" >2020/04</text>
<line x1="365.4" y1="361.1" x2="365.4" y2="363.1" stroke="#3a3a3a" stroke-width="1"/>
<text x="365.79999999999995" y="371.8" font-size="6.4" text-anchor="middle" fill="#333333" textLength="24" lengthAdjust="spacing" stroke="#333333" stroke-width="0.05" >2020/05</text>
<line x1="403.6" y1="361.1" x2="403.6" y2="363.1" stroke="#3a3a3a" stroke-width="1"/>
<text x="404.0" y="371.8" font-size="6.4" text-anchor="middle" fill="#333333" textLength="24" lengthAdjust="spacing" stroke="#333333" stroke-width="0.05" >2020/06</text>
<line x1="440.5" y1="361.1" x2="440.5" y2="363.1" stroke="#3a3a3a" stroke-width="1"/>
<text x="440.9" y="371.8" font-size="6.4" text-anchor="middle" fill="#333333" textLength="24" lengthAdjust="spacing" stroke="#333333" stroke-width="0.05" >2020/07</text>
<line x1="478.7" y1="361.1" x2="478.7" y2="363.1" stroke="#3a3a3a" stroke-width="1"/>
<text x="479.09999999999997" y="371.8" font-size="6.4" text-anchor="middle" fill="#333333" textLength="24" lengthAdjust="spacing" stroke="#333333" stroke-width="0.05" >2020/08</text>
<line x1="516.5" y1="361.1" x2="516.5" y2="363.1" stroke="#3a3a3a" stroke-width="1"/>
<text x="516.9" y="371.8" font-size="6.4" text-anchor="middle" fill="#333333" textLength="24" lengthAdjust="spacing" stroke="#333333" stroke-width="0.05" >2020/09</text>
<line x1="351.4" y1="220.2" x2="371.4" y2="220.2" stroke="#d0202c" stroke-width="1.8"/>
<text x="373" y="222.6" font-size="6.8" text-anchor="start" fill="#333333" textLength="48.4" lengthAdjust="spacingAndGlyphs" stroke="#333333" stroke-width="0.06" >2*TF2012-T2012</text>
<line x1="432.9" y1="220.4" x2="453.9" y2="220.4" stroke="#a4a4a4" stroke-width="1"/>
<text x="456.4" y="222.8" font-size="6.8" text-anchor="start" fill="#333333" textLength="48" lengthAdjust="spacingAndGlyphs" stroke="#333333" stroke-width="0.06" >10Y-5Y利差(BP)</text></svg></body></html>
